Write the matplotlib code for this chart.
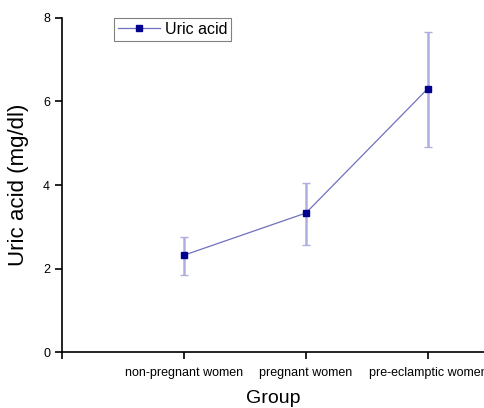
import matplotlib
matplotlib.use('Agg')
import matplotlib.pyplot as plt

plt.rcParams['font.family'] = ['Liberation Sans', 'DejaVu Sans']

groups = ['non-pregnant women', 'pregnant women', 'pre-eclamptic women']
uric_acid = [2.32, 3.33, 6.31]
err_low = [0.47, 0.77, 1.40]
err_high = [0.44, 0.72, 1.36]

xpos = [1, 2, 3]

fig = plt.figure(figsize=(4.84, 4.08), dpi=100)
ax = fig.add_axes([0.128, 0.137, 0.872, 0.819])

eb = ax.errorbar(xpos, uric_acid, yerr=[err_low, err_high], fmt='none',
                 ecolor='#aeaee0', elinewidth=1.8, capsize=3, capthick=1.0, zorder=1)
for cap in eb[1]:
    cap.set_color('#5a5a7a')
ax.plot(xpos, uric_acid, color='#7070c0', linewidth=0.9, marker='s',
        markersize=4.5, markerfacecolor='#00008f', markeredgecolor='#00008f',
        label='Uric acid', zorder=2)

ax.set_xlim(0, 3.46)
ax.set_ylim(0, 8)
ax.set_yticks([0, 2, 4, 6, 8])
ax.set_xticks([0] + xpos)
ax.set_xticklabels([''] + groups, fontsize=9)
ax.tick_params(axis='y', labelsize=9, direction='out', length=5, width=1.2)
ax.tick_params(axis='x', direction='out', length=5, width=1.2, pad=6)

for side in ['top', 'right']:
    ax.spines[side].set_visible(False)
ax.spines['left'].set_linewidth(1.2)
ax.spines['bottom'].set_linewidth(1.2)

ax.set_xlabel('Group', fontsize=14, labelpad=8)
ax.set_ylabel('Uric acid (mg/dl)', fontsize=16, labelpad=10)

leg = ax.legend(loc='upper left', bbox_to_anchor=(0.105, 1.025), fontsize=11.5,
                fancybox=False, framealpha=1, edgecolor='#808080',
                handlelength=2.6, borderpad=0.25, handletextpad=0.3)
leg.get_frame().set_linewidth(0.8)

plt.savefig('out.png', dpi=100)
